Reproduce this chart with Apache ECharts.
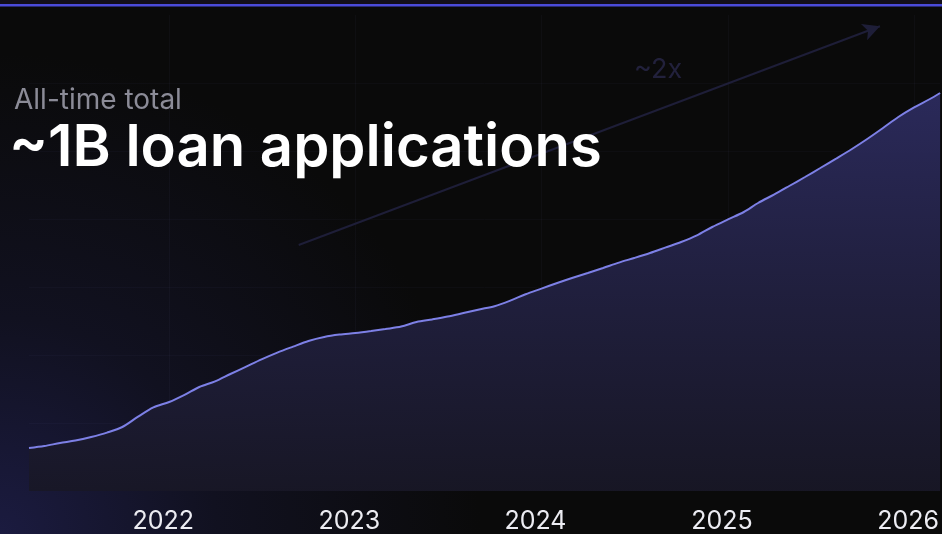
<!DOCTYPE html>
<html>
<head>
<meta charset="utf-8">
<script src="https://cdn.jsdelivr.net/npm/echarts@6/dist/echarts.min.js"></script>
<style>
  html, body { margin: 0; padding: 0; background: #0a0a0a; }
  #chart { width: 942px; height: 534px; }
</style>
</head>
<body>
<div id="chart"></div>
<script>
// Cumulative loan applications (millions), month by month
const dates = [
  '2021-04-01','2021-05-01','2021-06-01','2021-07-01','2021-08-01','2021-09-01',
  '2021-10-01','2021-11-01','2021-12-01','2022-01-01','2022-02-01','2022-03-01',
  '2022-04-01','2022-05-01','2022-06-01','2022-07-01','2022-08-01','2022-09-01',
  '2022-10-01','2022-11-01','2022-12-01','2023-01-01','2023-02-01','2023-03-01',
  '2023-04-01','2023-05-01','2023-06-01','2023-07-01','2023-08-01','2023-09-01',
  '2023-10-01','2023-11-01','2023-12-01','2024-01-01','2024-02-01','2024-03-01',
  '2024-04-01','2024-05-01','2024-06-01','2024-07-01','2024-08-01','2024-09-01',
  '2024-10-01','2024-11-01','2024-12-01','2025-01-01','2025-02-01','2025-03-01',
  '2025-04-01','2025-05-01','2025-06-01','2025-07-01','2025-08-01','2025-09-01',
  '2025-10-01','2025-11-01','2025-12-01','2026-01-01','2026-02-01','2026-02-21'
];
const applications = [
  107.5, 112.5, 120, 126, 135, 146,
  160, 186, 209, 222.5, 241, 260,
  274, 292.5, 311, 329, 346, 361,
  375, 385, 391, 395, 400, 405,
  411, 422.5, 429, 436, 445, 454,
  462, 476, 492, 506, 520, 532.5,
  545, 557.5, 571, 582.5, 595, 609,
  622.5, 639, 660, 679, 697.5, 720,
  741, 762.5, 785, 807.5, 831, 855,
  880, 907.5, 935, 959, 980, 995
];
const yearTicks = ['2022', '2023', '2024', '2025', '2026'];

// Trend arrow ("~2x") endpoints in data space
const trendFrom = ['2022-09-12', 615];
const trendTo = ['2025-10-26', 1162];

const subtitle = 'All-time total';
const headline = '~1B loan applications';
const trendLabel = '~2x';

const FONT = 'Inter, "Noto Sans", sans-serif';
const YEAR = 365.25 * 24 * 3600 * 1000;

const chart = echarts.init(document.getElementById('chart'), null, { renderer: 'canvas' });

chart.setOption({
  animation: false,
  backgroundColor: {
    type: 'radial', x: 0, y: 1, r: 0.9,
    colorStops: [
      { offset: 0, color: '#1b1b40' },
      { offset: 0.45, color: '#111120' },
      { offset: 1, color: '#0a0a0a' }
    ]
  },
  title: [
    {
      text: subtitle, left: 9, top: 82,
      textStyle: { color: '#8b8b97', fontFamily: FONT, fontSize: 28, fontWeight: 400 }
    },
    {
      text: headline, left: 4, top: 115,
      textStyle: { color: '#ffffff', fontFamily: FONT, fontSize: 58, fontWeight: 600 }
    }
  ],
  graphic: [
    { type: 'rect', left: 0, top: 0, shape: { width: 942, height: 4 }, style: { fill: '#130f1b' }, silent: true },
    { type: 'rect', left: 0, top: 4, shape: { width: 942, height: 2.5 }, style: { fill: '#4b4bd9' }, silent: true },
    {
      type: 'text', left: 634, top: 56,
      style: { text: trendLabel, fill: '#22213c', font: '400 27px ' + FONT }, silent: true
    }
  ],
  grid: { left: 29, right: 0, top: 15, bottom: 43, containLabel: false },
  xAxis: {
    type: 'time',
    min: '2021-04-01',
    max: '2026-02-21',
    minInterval: YEAR,
    maxInterval: YEAR,
    axisLine: { show: false },
    axisTick: { show: false },
    splitLine: {
      show: true, showMinLine: false, showMaxLine: false,
      lineStyle: { color: 'rgba(150,150,220,0.045)', width: 1 }
    },
    axisLabel: {
      color: '#ececf2', fontFamily: FONT, fontSize: 25, margin: 18,
      padding: [0, 12, 0, 0],
      formatter: function (v) {
        const y = String(new Date(v).getUTCFullYear());
        return yearTicks.indexOf(y) >= 0 ? y : '';
      }
    }
  },
  yAxis: {
    type: 'value', min: 0, max: 1190, interval: 170,
    axisLine: { show: false }, axisTick: { show: false }, axisLabel: { show: false },
    splitLine: {
      show: true, showMinLine: false, showMaxLine: false,
      lineStyle: { color: 'rgba(150,150,220,0.035)', width: 1 }
    }
  },
  series: [{
    type: 'line',
    data: dates.map((d, i) => [d, applications[i]]),
    showSymbol: false,
    smooth: 0.3,
    lineStyle: { color: '#7d80e6', width: 2 },
    areaStyle: {
      opacity: 1,
      color: {
        type: 'linear', x: 0, y: 0, x2: 0, y2: 1,
        colorStops: [
          { offset: 0, color: 'rgba(44,43,94,0.95)' },
          { offset: 0.5, color: 'rgba(33,32,64,0.95)' },
          { offset: 1, color: 'rgba(24,23,38,0.95)' }
        ]
      }
    },
    markLine: {
      silent: true,
      symbol: ['none', 'arrow'],
      symbolSize: [13, 17],
      label: { show: false },
      lineStyle: { color: '#1e1e38', width: 2, type: 'solid' },
      data: [[{ coord: trendFrom }, { coord: trendTo }]]
    }
  }]
});
</script>
</body>
</html>
